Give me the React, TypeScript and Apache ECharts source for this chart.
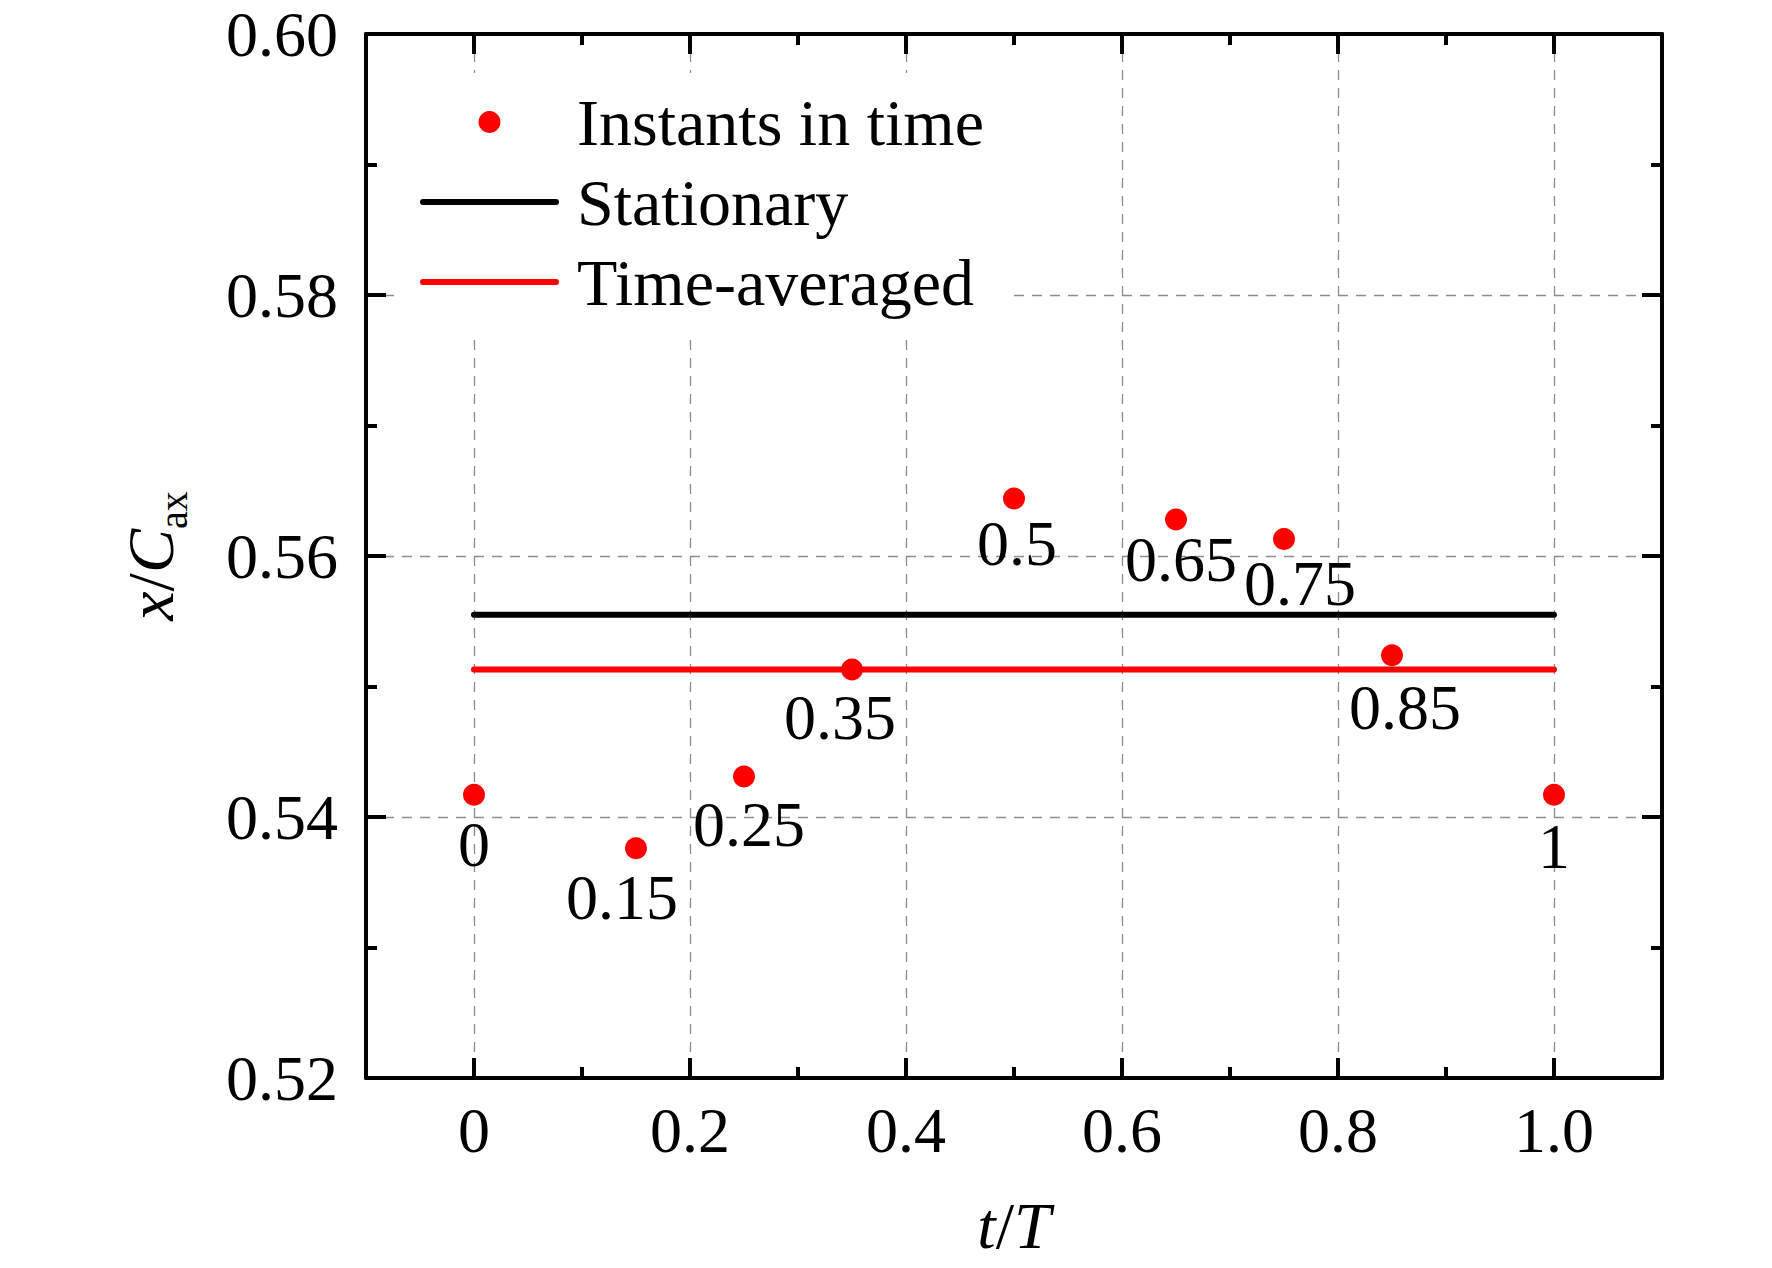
import React, { useEffect, useRef } from "react";
import * as echarts from "echarts";

// ---- data ----
const tTimes = [0, 0.15, 0.25, 0.35, 0.5, 0.65, 0.75, 0.85, 1];
const xPositions = [0.5417, 0.5376, 0.5431, 0.5513, 0.5644, 0.5628, 0.5613, 0.5524, 0.5417];
const pointLabels = ["0", "0.15", "0.25", "0.35", "0.5", "0.65", "0.75", "0.85", "1"];
const lineSpan = [0, 1];
const stationaryValue = 0.5555;
const timeAveragedValue = 0.5513;
const xMajorTicks = [0, 0.2, 0.4, 0.6, 0.8, 1.0];
const xMinorTicks = [0.1, 0.3, 0.5, 0.7, 0.9];
const legendNames = ["Instants in time", "Stationary", "Time-averaged"];

// ---- style ----
const labelOffsets: number[][] = [
  [0, 50],
  [-14, 49],
  [5, 48],
  [-12, 48],
  [3, 45],
  [5, 40],
  [16, 44],
  [13, 52],
  [0, 52],
];
const FONT = "Liberation Serif";
const BLACK = "#000000";
const RED = "#ff0000";
const GRID_LINE = { color: "#8c8c8c", width: 1.3, type: [10, 8] as number[] };
const AXIS_LINE = { color: BLACK, width: 4 };

function App() {
  const ref = useRef<HTMLDivElement>(null);

  useEffect(() => {
    if (!ref.current) return;
    const chart = echarts.init(ref.current, null, { renderer: "svg", width: 1772, height: 1268 });

    const xBase = {
      type: "value",
      min: -0.1,
      max: 1.1,
      interval: 0.1,
      gridIndex: 0,
    };

    const option: any = {
      animation: false,
      backgroundColor: "#ffffff",
      textStyle: { fontFamily: FONT, color: BLACK },
      grid: { left: 366, top: 34, width: 1296, height: 1044, containLabel: false, outerBoundsMode: "none" },
      legend: {
        orient: "vertical",
        left: 395,
        top: 73,
        padding: [16, 22, 18, 25],
        backgroundColor: "#ffffff",
        itemWidth: 133,
        itemHeight: 22,
        itemGap: 14,
        selectedMode: false,
        textStyle: { fontFamily: FONT, fontSize: 66, lineHeight: 66, color: BLACK, padding: [0, 0, 0, 16] },
        lineStyle: { width: 6, cap: "round" },
        data: [
          { name: legendNames[0], itemStyle: { opacity: 1 } },
          { name: legendNames[1], itemStyle: { opacity: 0 } },
          { name: legendNames[2], itemStyle: { opacity: 0 } },
        ],
      },
      xAxis: [
        {
          ...xBase,
          position: "bottom",
          axisLine: { show: true, onZero: false, lineStyle: AXIS_LINE },
          axisTick: { show: true, inside: true, length: 20, lineStyle: AXIS_LINE, customValues: xMajorTicks },
          axisLabel: {
            show: true,
            customValues: xMajorTicks,
            formatter: (v: number) => (Math.abs(v) < 1e-9 ? "0" : v.toFixed(1)),
            margin: 20,
            fontSize: 64,
            lineHeight: 64,
            color: BLACK,
            fontFamily: FONT,
          },
          splitLine: { show: true, lineStyle: GRID_LINE },
          minorTick: { show: false },
          name: "{i|t}/{i|T}",
          nameLocation: "middle",
          nameGap: 114,
          nameMoveOverlap: false,
          nameTextStyle: {
            fontFamily: FONT,
            fontSize: 66,
            lineHeight: 66,
            color: BLACK,
            rich: {
              i: { fontFamily: FONT, fontSize: 66, lineHeight: 66, fontStyle: "italic", color: BLACK },
            },
          },
        },
        {
          ...xBase,
          position: "bottom",
          axisLine: { show: false, onZero: false },
          axisTick: { show: true, inside: true, length: 11, lineStyle: AXIS_LINE, customValues: xMinorTicks },
          axisLabel: { show: false },
          splitLine: { show: false },
        },
        {
          ...xBase,
          position: "top",
          axisLine: { show: true, onZero: false, lineStyle: AXIS_LINE },
          axisTick: { show: true, inside: true, length: 20, lineStyle: AXIS_LINE, customValues: xMajorTicks },
          axisLabel: { show: false },
          splitLine: { show: false },
        },
        {
          ...xBase,
          position: "top",
          axisLine: { show: false, onZero: false },
          axisTick: { show: true, inside: true, length: 11, lineStyle: AXIS_LINE, customValues: xMinorTicks },
          axisLabel: { show: false },
          splitLine: { show: false },
        },
      ],
      yAxis: [
        {
          type: "value",
          position: "left",
          min: 0.52,
          max: 0.6,
          interval: 0.02,
          axisLine: { show: true, onZero: false, lineStyle: AXIS_LINE },
          axisTick: { show: true, inside: true, length: 20, lineStyle: AXIS_LINE },
          minorTick: { show: true, splitNumber: 2, length: 11, lineStyle: AXIS_LINE },
          axisLabel: {
            show: true,
            formatter: (v: number) => v.toFixed(2),
            margin: 28,
            fontSize: 64,
            lineHeight: 64,
            color: BLACK,
            fontFamily: FONT,
          },
          splitLine: { show: true, lineStyle: GRID_LINE },
          minorSplitLine: { show: false },
          name: "{i|x}{n|/}{i|C}{s|ax}",
          nameLocation: "middle",
          nameGap: 183,
          nameRotate: 90,
          nameMoveOverlap: false,
          nameTextStyle: {
            fontFamily: FONT,
            fontSize: 66,
            color: BLACK,
            rich: {
              i: { fontFamily: FONT, fontSize: 66, lineHeight: 66, fontStyle: "italic", color: BLACK },
              n: { fontFamily: FONT, fontSize: 66, lineHeight: 66, color: BLACK },
              s: { fontFamily: FONT, fontSize: 40, lineHeight: 40, padding: [46, 0, 0, 0], color: BLACK },
            },
          },
        },
        {
          type: "value",
          position: "right",
          min: 0.52,
          max: 0.6,
          interval: 0.02,
          axisLine: { show: true, onZero: false, lineStyle: AXIS_LINE },
          axisTick: { show: true, inside: true, length: 20, lineStyle: AXIS_LINE },
          minorTick: { show: true, splitNumber: 2, length: 11, lineStyle: AXIS_LINE },
          axisLabel: { show: false },
          splitLine: { show: false },
        },
      ],
      series: [
        {
          name: legendNames[1],
          type: "line",
          xAxisIndex: 0,
          yAxisIndex: 0,
          symbol: "none",
          lineStyle: { color: BLACK, width: 6, cap: "round", opacity: 1 },
          itemStyle: { color: BLACK },
          data: lineSpan.map((x) => [x, stationaryValue]),
          z: 3,
        },
        {
          name: legendNames[2],
          type: "line",
          xAxisIndex: 0,
          yAxisIndex: 0,
          symbol: "none",
          lineStyle: { color: RED, width: 6, cap: "round", opacity: 1 },
          itemStyle: { color: RED },
          data: lineSpan.map((x) => [x, timeAveragedValue]),
          z: 3,
        },
        {
          name: legendNames[0],
          type: "scatter",
          xAxisIndex: 0,
          yAxisIndex: 0,
          symbol: "circle",
          symbolSize: 22,
          itemStyle: { color: RED, opacity: 1 },
          z: 4,
          label: {
            show: true,
            position: "inside",
            fontFamily: FONT,
            fontSize: 64,
            lineHeight: 64,
            color: BLACK,
            opacity: 1,
            formatter: (p: any) => pointLabels[p.dataIndex],
          },
          data: tTimes.map((t, i) => ({
            value: [t, xPositions[i]],
            label: { offset: labelOffsets[i] },
          })),
        },
      ],
    };

    chart.setOption(option);
    return () => chart.dispose();
  }, []);

  return (
    <div
      ref={ref}
      style={{ position: "fixed", left: 0, top: 0, width: 1772, height: 1268, background: "#ffffff" }}
    />
  );
}

export default App;
